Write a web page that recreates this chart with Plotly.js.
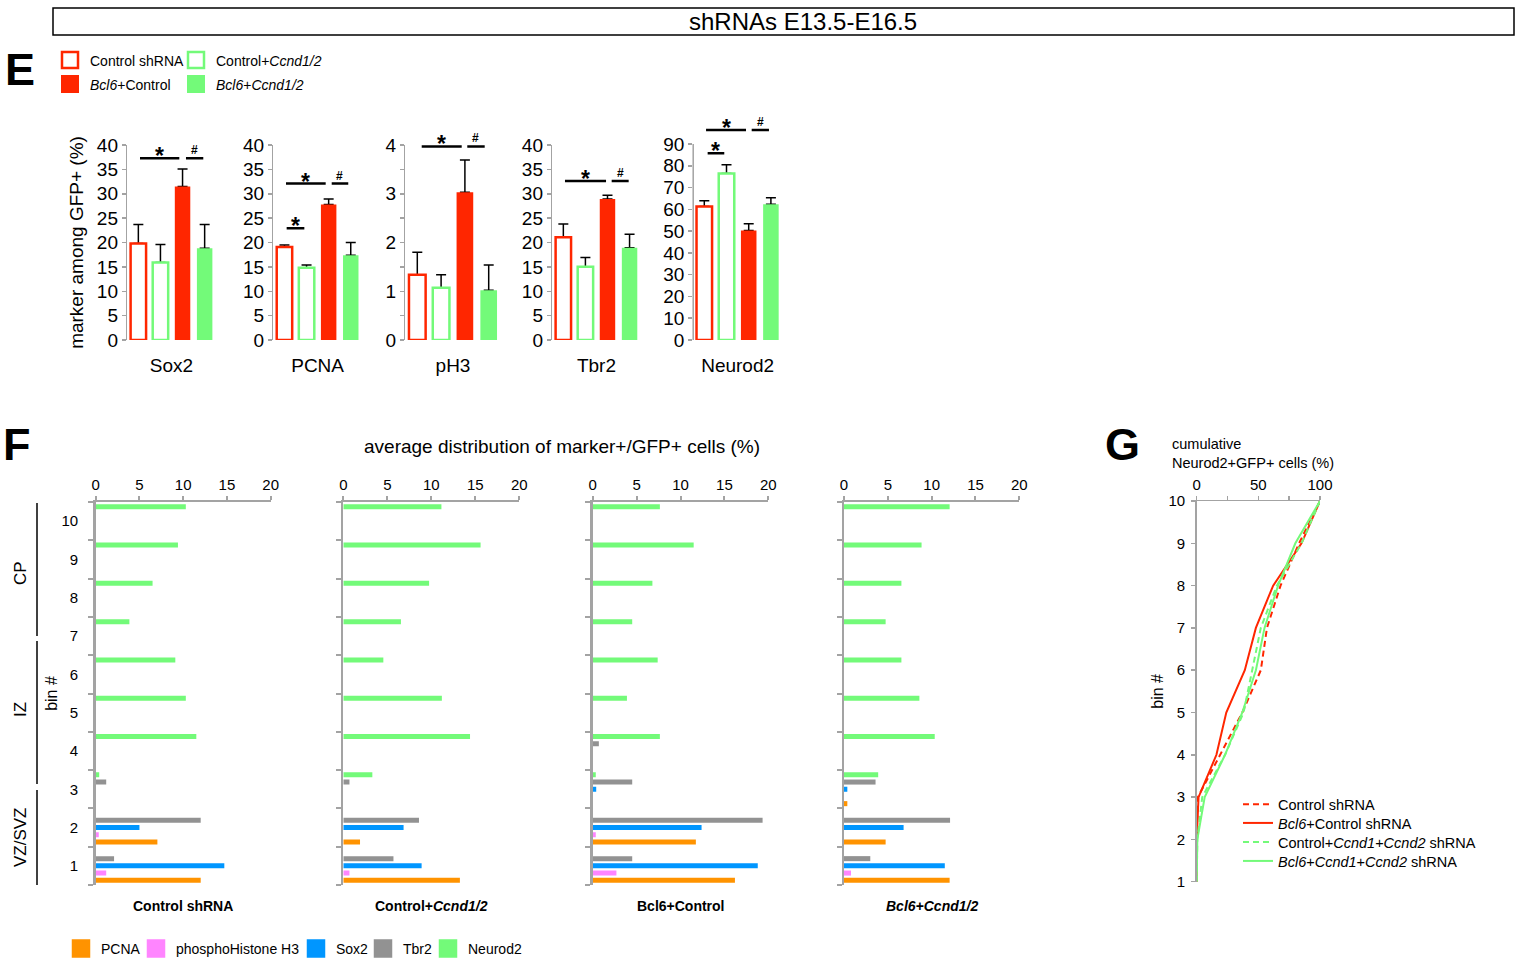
<!DOCTYPE html>
<html>
<head>
<meta charset="utf-8">
<script src="https://cdn.plot.ly/plotly-3.0.1.min.js"></script>
<style>
html,body{margin:0;padding:0;background:#ffffff;width:1525px;height:959px;overflow:hidden;}
#chart{position:absolute;left:0;top:0;width:1525px;height:959px;}
</style>
</head>
<body>
<div id="chart"></div>
<script>
// ================= DATA =================
// ---- Panel E : marker among GFP+ (%) ----
const eMarkers = ['Sox2', 'PCNA', 'pH3', 'Tbr2', 'Neurod2'];
const eConditions = ['Control shRNA', 'Control+<i>Ccnd1/2</i>', '<i>Bcl6</i>+Control', '<i>Bcl6</i>+<i>Ccnd1/2</i>'];
const ctrlMean     = [19.8, 19.1, 1.34, 21.1, 61.3];
const ctrlErr      = [3.9, 0.4, 0.46, 2.7, 2.6];
const ccndMean     = [15.9, 14.8, 1.07, 15.0, 76.4];
const ccndErr      = [3.7, 0.6, 0.27, 1.9, 4.1];
const bcl6Mean     = [31.5, 27.8, 3.03, 28.9, 50.3];
const bcl6Err      = [3.6, 1.1, 0.66, 0.8, 3.1];
const bcl6CcndMean = [18.8, 17.4, 1.02, 18.9, 62.3];
const bcl6CcndErr  = [4.9, 2.6, 0.52, 2.8, 3.0];
const eTicks40 = [0, 5, 10, 15, 20, 25, 30, 35, 40];
const eTicks4  = [0, 1, 2, 3, 4];
const eTicks90 = [0, 10, 20, 30, 40, 50, 60, 70, 80, 90];

// ---- Panel F : average distribution of marker+/GFP+ cells (%) per bin ----
const bins = [1, 2, 3, 4, 5, 6, 7, 8, 9, 10];
const fMarkers = ['PCNA', 'phosphoHistone H3', 'Sox2', 'Tbr2', 'Neurod2'];
const fGroups = ['<b>Control shRNA</b>', '<b>Control+<i>Ccnd1/2</i></b>', '<b>Bcl6+Control</b>', '<b><i>Bcl6+Ccnd1/2</i></b>'];
// Control shRNA
const ctrlPCNA    = [12.0, 7.05, 0, 0, 0, 0, 0, 0, 0, 0];
const ctrlPH3     = [1.2, 0.35, 0, 0, 0, 0, 0, 0, 0, 0];
const ctrlSox2    = [14.7, 5.0, 0, 0, 0, 0, 0, 0, 0, 0];
const ctrlTbr2    = [2.1, 12.0, 1.2, 0, 0, 0, 0, 0, 0, 0];
const ctrlNeurod2 = [0, 0, 0.4, 11.5, 10.3, 9.1, 3.85, 6.5, 9.4, 10.3];
// Control + Ccnd1/2
const ccndPCNA    = [13.25, 1.9, 0, 0, 0, 0, 0, 0, 0, 0];
const ccndPH3     = [0.7, 0, 0, 0, 0, 0, 0, 0, 0, 0];
const ccndSox2    = [8.9, 6.85, 0, 0, 0, 0, 0, 0, 0, 0];
const ccndTbr2    = [5.7, 8.6, 0.7, 0, 0, 0, 0, 0, 0, 0];
const ccndNeurod2 = [0, 0, 3.3, 14.4, 11.2, 4.55, 6.55, 9.75, 15.6, 11.15];
// Bcl6 + Control
const bcl6PCNA    = [16.2, 11.75, 0, 0, 0, 0, 0, 0, 0, 0];
const bcl6PH3     = [2.7, 0.35, 0, 0, 0, 0, 0, 0, 0, 0];
const bcl6Sox2    = [18.8, 12.4, 0.4, 0, 0, 0, 0, 0, 0, 0];
const bcl6Tbr2    = [4.5, 19.35, 4.5, 0.7, 0, 0, 0, 0, 0, 0];
const bcl6Neurod2 = [0, 0, 0.35, 7.65, 3.9, 7.4, 4.5, 6.8, 11.5, 7.65];
// Bcl6 + Ccnd1/2
const bcl6CcndPCNA    = [12.05, 4.75, 0.38, 0, 0, 0, 0, 0, 0, 0];
const bcl6CcndPH3     = [0.8, 0, 0, 0, 0, 0, 0, 0, 0, 0];
const bcl6CcndSox2    = [11.5, 6.8, 0.38, 0, 0, 0, 0, 0, 0, 0];
const bcl6CcndTbr2    = [3.0, 12.1, 3.6, 0, 0, 0, 0, 0, 0, 0];
const bcl6CcndNeurod2 = [0, 0, 3.9, 10.35, 8.6, 6.55, 4.75, 6.55, 8.85, 12.05];

// ---- Panel G : cumulative Neurod2+GFP+ cells (%) ----
const gNames = ['Control shRNA', '<i>Bcl6</i>+Control shRNA', 'Control+<i>Ccnd1</i>+<i>Ccnd2</i> shRNA', '<i>Bcl6</i>+<i>Ccnd1</i>+<i>Ccnd2</i> shRNA'];
const gCtrl     = [0, 0, 1, 19, 37, 52, 57, 68, 83, 100];
const gBcl6     = [0, 0, 1.5, 16, 24, 39, 48, 62, 85, 100];
const gCcnd     = [0, 0.5, 4.5, 23, 38, 45, 52, 65, 85, 100];
const gBcl6Ccnd = [0, 0.5, 6.5, 23, 37, 48, 55, 66, 80, 100];
const gTicksX = [0, 50, 100];

// ================= STYLE / LAYOUT =================
const W = 1525, H = 959;
const px = p => p / W;
const py = p => 1 - p / H;
const RED = '#FF2600', GREEN = '#73FA79', ORANGE = '#FF9300', PINK = '#FF85FF', BLUE = '#0096FF', GRAY = '#929292';
const AX = '#A3A3A3';
const FONT = 'Arial, "Liberation Sans", Helvetica, sans-serif';
const id = k => (k === 1 ? '' : String(k));

const traces = [];
const layout = {
  width: W, height: H, autosize: false,
  margin: {l: 0, r: 0, t: 0, b: 0, pad: 0, autoexpand: false},
  paper_bgcolor: '#ffffff', plot_bgcolor: 'rgba(0,0,0,0)',
  font: {family: FONT, color: '#000000', size: 14},
  barmode: 'group', bargap: 0.06, bargroupgap: 0.3,
  showlegend: true,
  hovermode: false,
  shapes: [], annotations: []
};

// ---------- Panel E ----------
const eMeans = [ctrlMean, ccndMean, bcl6Mean, bcl6CcndMean];
const eErrs = [ctrlErr, ccndErr, bcl6Err, bcl6CcndErr];
const eFill = ['#ffffff', '#ffffff', RED, GREEN];
const eLine = [RED, GREEN, RED, GREEN];
const eLW = [2.5, 2.5, 0, 0];
const eLegends = ['legend3', 'legend4', 'legend5', 'legend6'];
const eDomX = [[127.3, 215.7], [273.4, 361.8], [405.4, 500.6], [552.3, 640.6], [693.2, 782.0]];
const eTop = [145, 145, 145, 145, 122.2];
const eRange = [40, 40, 4, 40, 100];
const eTickSets = [eTicks40, eTicks40, eTicks4, eTicks40, eTicks90];

eMarkers.forEach((m, i) => {
  const k = i + 1;
  eConditions.forEach((name, c) => {
    // error bar carrier (drawn first so the following bar hides its lower end)
    traces.push({
      type: 'bar', x: [m], y: [eMeans[c][i]], xaxis: 'x' + id(k), yaxis: 'y' + id(k),
      offsetgroup: 'c' + c, showlegend: false, hoverinfo: 'skip',
      marker: {color: 'rgba(0,0,0,0)', line: {width: 0}},
      error_y: {type: 'data', symmetric: false, array: [eErrs[c][i]], arrayminus: [0],
                color: '#000000', thickness: 1.5, width: 5}
    });
    traces.push({
      type: 'bar', x: [m], y: [eMeans[c][i]], name: name, xaxis: 'x' + id(k), yaxis: 'y' + id(k),
      offsetgroup: 'c' + c, showlegend: false, hoverinfo: 'skip',
      marker: {color: eFill[c], line: {color: eLine[c], width: eLW[c]}}
    });
  });
  layout['xaxis' + id(k)] = {
    domain: [px(eDomX[i][0]), px(eDomX[i][1])], anchor: 'y' + id(k),
    type: 'category', range: [-0.47, 0.47], showline: false, ticks: '',
    showgrid: false, zeroline: false, tickfont: {size: 19}, ticklabelstandoff: 12, fixedrange: true
  };
  const yax = {
    domain: [py(340), py(eTop[i])], anchor: 'x' + id(k), range: [0, eRange[i]],
    tickmode: 'array', tickvals: eTickSets[i],
    ticks: 'outside', ticklen: 4, tickwidth: 1.5, tickcolor: AX,
    showline: i !== 4, linecolor: AX, linewidth: 1.5,
    showgrid: false, zeroline: false, tickfont: {size: 19}, fixedrange: true
  };
  if (i === 2) yax.minor = {ticks: 'outside', tickmode: 'linear', tick0: 0, dtick: 0.5, ticklen: 4, tickwidth: 1.5, tickcolor: AX};
  if (i === 0) yax.title = {text: 'marker among GFP+ (%)', font: {size: 19}, standoff: 8};
  layout['yaxis' + id(k)] = yax;
});
// legend entries for the four conditions (square swatches)
eConditions.forEach((name, c) => {
  traces.push({
    type: 'scatter', mode: 'markers', x: [null], y: [null], name: name, xaxis: 'x', yaxis: 'y',
    legend: eLegends[c], showlegend: true, hoverinfo: 'skip',
    marker: {symbol: 'square', size: 16, color: eFill[c], line: {color: eLine[c], width: eLW[c] > 0 ? 2.5 : 2}}
  });
});
// Neurod2 axis line only up to 90
layout.shapes.push({type: 'line', xref: 'x5 domain', yref: 'y5', x0: 0, x1: 0, y0: 0, y1: 90,
  line: {color: AX, width: 1.5}});

// significance marks (layout decoration): [subplot, x0, x1, y, symbol]
const sigMarks = [
  [1, -0.335, 0.083, 37.3, '*'], [1, 0.154, 0.338, 37.3, '#'],
  [2, -0.329, -0.141, 22.9, '*'], [2, -0.336, 0.086, 32.1, '*'], [2, 0.150, 0.326, 32.1, '#'],
  [3, -0.309, 0.086, 3.97, '*'], [3, 0.141, 0.313, 3.97, '#'],
  [4, -0.335, 0.102, 32.6, '*'], [4, 0.162, 0.343, 32.6, '#'],
  [5, -0.317, -0.141, 85.7, '*'], [5, -0.334, 0.089, 96.4, '*'], [5, 0.149, 0.332, 96.4, '#']
];
sigMarks.forEach(([k, x0, x1, y, sym]) => {
  layout.shapes.push({type: 'line', xref: 'x' + id(k), yref: 'y' + id(k), x0: x0, x1: x1, y0: y, y1: y,
    line: {color: '#000000', width: 2.5}});
  layout.annotations.push({xref: 'x' + id(k), yref: 'y' + id(k), x: (x0 + x1) / 2, y: y,
    text: sym === '*' ? '<b>*</b>' : '<b>#</b>', showarrow: false,
    font: {size: sym === '*' ? 23 : 12}, xanchor: 'center', yanchor: 'middle', yshift: sym === '*' ? 2 : 8});
});

// E legends (one per entry, laid out 2x2)
const eLegPos = [[50, 60.5], [176, 60.5], [50, 84.5], [176, 84.5]];
eLegends.forEach((lg, c) => {
  layout[lg] = {x: px(eLegPos[c][0]), y: py(eLegPos[c][1]), xanchor: 'left', yanchor: 'middle',
    bgcolor: 'rgba(0,0,0,0)', borderwidth: 0, font: {size: 14}};
});

// ---------- Panel F ----------
const fData = [
  [ctrlPCNA, ctrlPH3, ctrlSox2, ctrlTbr2, ctrlNeurod2],
  [ccndPCNA, ccndPH3, ccndSox2, ccndTbr2, ccndNeurod2],
  [bcl6PCNA, bcl6PH3, bcl6Sox2, bcl6Tbr2, bcl6Neurod2],
  [bcl6CcndPCNA, bcl6CcndPH3, bcl6CcndSox2, bcl6CcndTbr2, bcl6CcndNeurod2]
];
const fColors = [ORANGE, PINK, BLUE, GRAY, GREEN];
const fDomX = [[95.7, 270.7], [343.3, 519.3], [592.7, 768.3], [844.0, 1019.3]];
fData.forEach((grp, g) => {
  const k = 6 + g;
  grp.forEach((vals, s) => {
    traces.push({
      type: 'bar', orientation: 'h', y: bins, x: vals, name: fMarkers[s],
      xaxis: 'x' + k, yaxis: 'y' + k, marker: {color: fColors[s], line: {width: 0}},
      showlegend: false, hoverinfo: 'skip'
    });
  });
  layout['xaxis' + k] = {
    domain: [px(fDomX[g][0]), px(fDomX[g][1])], anchor: 'y' + k, side: 'top',
    range: [0, 20], tickmode: 'linear', tick0: 0, dtick: 5,
    ticks: 'outside', ticklen: 4, tickwidth: 2, tickcolor: AX,
    showline: true, linecolor: AX, linewidth: 2.5, showgrid: false, zeroline: false,
    tickfont: {size: 15}, ticklabelstandoff: 0, fixedrange: true
  };
  const yax = {
    domain: [py(885), py(502)], anchor: 'x' + k, range: [0.5, 10.5],
    tickmode: 'linear', tick0: 1, dtick: 1, ticks: '',
    showticklabels: g === 0, tickfont: {size: 15}, ticklabelstandoff: 12,
    showline: true, linecolor: AX, linewidth: 2.5, showgrid: false, zeroline: false,
    minor: {ticks: 'outside', tickmode: 'linear', tick0: 0.5, dtick: 1, ticklen: 5, tickwidth: 2, tickcolor: AX},
    fixedrange: true
  };
  if (g === 0) yax.title = {text: 'bin #', font: {size: 16}, standoff: 0};
  layout['yaxis' + k] = yax;
  layout.annotations.push({xref: 'x' + k + ' domain', yref: 'paper', x: 0.5, y: py(906), text: fGroups[g],
    showarrow: false, font: {size: 14}, xanchor: 'center', yanchor: 'middle'});
});
// F legend: one entry per marker colour, placed along the bottom
const fLegends = ['legend', 'legend7', 'legend8', 'legend9', 'legend10'];
const fLegX = [61, 136, 296, 363, 428];
fMarkers.forEach((name, s) => {
  traces.push({
    type: 'scatter', mode: 'markers', x: [null], y: [null], name: name, xaxis: 'x6', yaxis: 'y6',
    legend: fLegends[s], showlegend: true, hoverinfo: 'skip',
    marker: {symbol: 'square', size: 16, color: fColors[s], line: {color: fColors[s], width: 2.5}}
  });
  layout[fLegends[s]] = {x: px(fLegX[s]), y: py(949), xanchor: 'left', yanchor: 'middle',
    bgcolor: 'rgba(0,0,0,0)', borderwidth: 0, font: {size: 14}};
});

// ---------- Panel G ----------
const gSeries = [gCtrl, gBcl6, gCcnd, gBcl6Ccnd];
const gColors = [RED, RED, GREEN, GREEN];
const gDash = ['6px,4px', 'solid', '6px,4px', 'solid'];
const gLegends = ['legend2', 'legend11', 'legend12', 'legend13'];
const gLegY = [804.3, 823, 842, 861];
gSeries.forEach((vals, s) => {
  traces.push({
    type: 'scatter', mode: 'lines', x: vals, y: bins, name: gNames[s],
    xaxis: 'x10', yaxis: 'y10', line: {color: gColors[s], width: 2, dash: gDash[s]},
    showlegend: true, legend: gLegends[s], hoverinfo: 'skip', cliponaxis: false
  });
  layout[gLegends[s]] = {x: px(1238), y: py(gLegY[s]), xanchor: 'left', yanchor: 'middle',
    bgcolor: 'rgba(0,0,0,0)', borderwidth: 0, font: {size: 14.5}};
});
layout.xaxis10 = {
  domain: [px(1196.7), px(1320)], anchor: 'y10', side: 'top', range: [0, 100],
  tickmode: 'array', tickvals: gTicksX,
  ticks: 'outside', ticklen: 4, tickwidth: 1.5, tickcolor: AX,
  minor: {ticks: 'outside', tickmode: 'linear', tick0: 0, dtick: 25, ticklen: 4, tickwidth: 1.5, tickcolor: AX},
  showline: true, linecolor: AX, linewidth: 1.5, showgrid: false, zeroline: false,
  tickfont: {size: 15}, ticklabelstandoff: 0, fixedrange: true
};
layout.yaxis10 = {
  domain: [py(881.7), py(501)], anchor: 'x10', range: [1, 10],
  tickmode: 'array', tickvals: bins,
  ticks: 'outside', ticklen: 4, tickwidth: 1.5, tickcolor: AX,
  showline: true, linecolor: AX, linewidth: 1.5, showgrid: false, zeroline: false,
  tickfont: {size: 15}, ticklabelstandoff: 3, fixedrange: true,
  title: {text: 'bin #', font: {size: 16}, standoff: 1}
};

// ---------- Decorations ----------
layout.shapes.push({type: 'rect', xref: 'paper', yref: 'paper', x0: px(53), x1: px(1514), y0: py(35), y1: py(8),
  line: {color: '#000000', width: 1.5}, fillcolor: 'rgba(0,0,0,0)'});
layout.annotations.push({xref: 'paper', yref: 'paper', x: px(803), y: py(22), text: 'shRNAs E13.5-E16.5',
  showarrow: false, font: {size: 24}, xanchor: 'center', yanchor: 'middle'});
[['E', 19.5, 69, 45], ['F', 17, 444, 45], ['G', 1122, 444, 45]].forEach(([t, x, y, s]) => {
  layout.annotations.push({xref: 'paper', yref: 'paper', x: px(x), y: py(y), text: '<b>' + t + '</b>',
    showarrow: false, font: {size: s}, xanchor: 'center', yanchor: 'middle'});
});
layout.annotations.push({xref: 'paper', yref: 'paper', x: px(562), y: py(446),
  text: 'average distribution of marker+/GFP+ cells (%)', showarrow: false, font: {size: 19},
  xanchor: 'center', yanchor: 'middle'});
layout.annotations.push({xref: 'paper', yref: 'paper', x: px(1170), y: py(434),
  text: 'cumulative<br>Neurod2+GFP+ cells (%)', showarrow: false, font: {size: 14.5},
  xanchor: 'left', yanchor: 'top', align: 'left'});
// zone brackets
[['CP', 503, 636, 573], ['IZ', 641, 784, 710], ['VZ/SVZ', 790, 885, 837]].forEach(([t, y0, y1, yc]) => {
  layout.shapes.push({type: 'line', xref: 'paper', yref: 'paper', x0: px(37), x1: px(37), y0: py(y0), y1: py(y1),
    line: {color: '#000000', width: 1.5}});
  layout.annotations.push({xref: 'paper', yref: 'paper', x: px(20), y: py(yc), text: t, textangle: -90,
    showarrow: false, font: {size: 17}, xanchor: 'center', yanchor: 'middle'});
});

Plotly.newPlot('chart', traces, layout, {staticPlot: true, displayModeBar: false, responsive: false});
</script>
</body>
</html>
